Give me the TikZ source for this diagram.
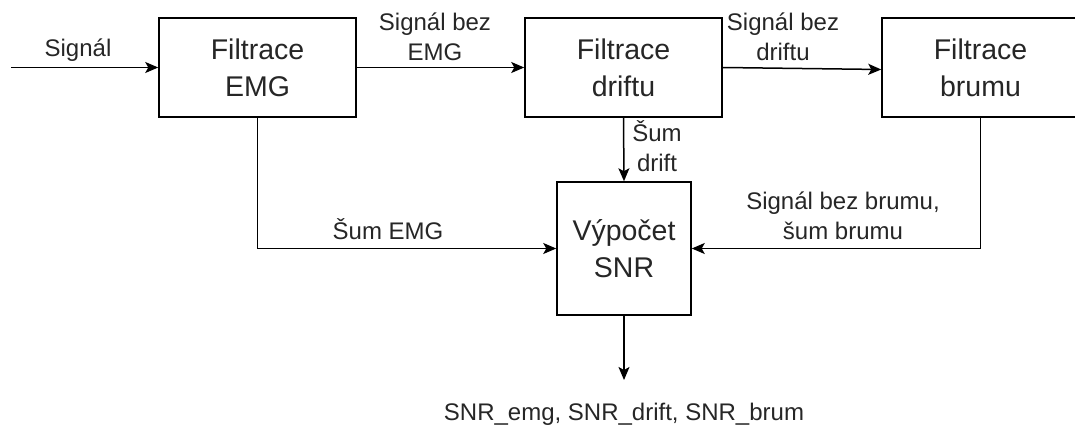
\documentclass[tikz,border=0pt]{standalone}
\usepackage{fontspec}
\setmainfont{Liberation Sans}
\usetikzlibrary{arrows.meta}
\begin{document}
\begin{tikzpicture}[x=1pt,y=-1pt,
  blk/.style={draw, line width=1.5pt, minimum width=197pt, minimum height=99pt, inner sep=0pt, align=center, text=black!85, font=\fontsize{28.5}{37}\selectfont},
  lbl/.style={align=center, font=\fontsize{24}{30}\selectfont, anchor=base, inner sep=0pt, text=black!85},
  arr/.style={line width=1.5pt, -{Stealth[length=13pt,width=11pt,inset=3pt]}}]
\useasboundingbox (0,0) rectangle (1075,430);
\node[blk] (emg) at (257.5,67.5) {Filtrace\\EMG};
\node[blk] (drift) at (623.5,67.5) {Filtrace\\driftu};
\node[blk] (brum) at (980.5,67.5) {Filtrace\\brumu};
\node[blk, minimum width=134pt, minimum height=133pt] (snr) at (624,248.5) {Výpočet\\SNR};
\coordinate (in) at (11,67.5);
\coordinate (out) at (624,380);
\draw[arr] (in) -- (emg.west);
\draw[arr] (emg.east) -- (drift.west);
\draw[arr] (drift.east) -- ([yshift=-2pt]brum.west);
\draw[arr] (drift.south) -- (snr.north);
\draw[arr] (emg.south) |- (snr.west);
\draw[arr] (brum.south) |- (snr.east);
\draw[arr] (snr.south) -- (out);
\node[lbl] (l1) at (78,57) {Signál};
\node[lbl] (l2) at (435,61) {Signál bez\\EMG};
\node[lbl] (l3) at (783,61) {Signál bez\\driftu};
\node[lbl] (l4) at (657,172) {Šum\\drift};
\node[lbl] (l5) at (388,240) {Šum EMG};
\node[lbl] (l6) at (843,240) {Signál bez brumu,\\šum brumu};
\node[lbl] (l7) at (624,420) {SNR\_emg, SNR\_drift, SNR\_brum};
\end{tikzpicture}
\end{document}
